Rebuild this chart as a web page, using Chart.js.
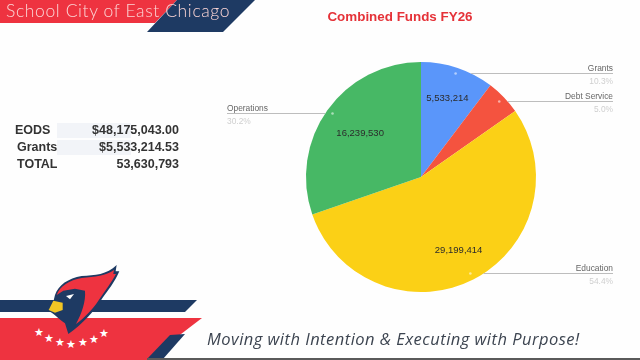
<!DOCTYPE html>
<html>
<head>
<meta charset="utf-8">
<title>Combined Funds FY26</title>
<script src="https://cdn.jsdelivr.net/npm/chart.js@4/dist/chart.umd.min.js"></script>
<style>
  html, body { margin: 0; padding: 0; background: #fff; }
  #page { position: relative; width: 640px; height: 360px; overflow: hidden; background: #fefefe; font-family: "Liberation Sans", Arial, sans-serif; }
  #decor, #fundsChart { position: absolute; left: 0; top: 0; }
  #heading { position: absolute; left: 6px; top: 0; font: 300 17.5px/21px Lato, sans-serif; letter-spacing: 0.62px; color: #fbd5d5; white-space: nowrap; }
  #title { position: absolute; left: 300px; width: 200px; top: 8px; text-align: center; font: bold 13.4px/18px "Liberation Sans", Arial, sans-serif; color: #e53238; white-space: nowrap; }
  #tagline { position: absolute; left: 207px; top: 329px; font: italic 400 16.5px/20px "Open Sans", sans-serif; letter-spacing: 0.48px; color: #3c4450; white-space: nowrap; }
  .row { position: absolute; left: 15px; width: 164px; height: 15px; font: bold 12.5px/15px "Liberation Sans", Arial, sans-serif; color: #333; }
  .row .shade { position: absolute; left: 42px; right: 48px; top: 0; bottom: 0; background: #f2f4f8; }
  .row span { position: absolute; top: 0; }
  .row .amount { right: 0; }
</style>
</head>
<body>
<div id="page">
  <svg id="decor" width="640" height="360" viewBox="0 0 640 360">
    <polygon points="0,0 177,0 155,23 0,23" fill="#ee3340"/>
    <polygon points="177,0 255,0 223,32 147,32" fill="#1e3a63"/>
    <polygon points="0,300 197,300 185,312 0,312" fill="#1e3a63"/>
    <polygon points="0,318 202,318 147,360 0,360" fill="#ee3340"/>
    <polygon points="170,335 185,334 163,359 147,359" fill="#1e3a63"/>
    <rect x="147" y="358" width="493" height="2" fill="#5a5a5a"/>
    <g transform="translate(0,260) scale(0.3333)">
      <path d="M165 105 C175 75 205 55 245 48 C285 45 320 45 350 15 L347 34 L358 34 C345 65 325 90 300 125 C285 150 250 190 205 222 L195 190 C175 175 160 160 150 155 L146 148 L160 125 Z" fill="#1e3a63"/>
      <path d="M170 105 C180 78 208 60 245 54 C285 50 318 48 342 30 L340 42 L348 42 C335 65 318 90 295 122 C280 145 255 172 228 192 C245 160 258 125 255 92 L225 86 L190 92 Z" fill="#ee3340"/>
      <path d="M198 108 L222 102 L210 118 Z" fill="#fff"/>
      <path d="M160 122 L188 128 L188 150 L165 158 L146 150 Z" fill="#f2c624"/>
      <g fill="#fff" font-size="32" text-anchor="middle">
        <text x="118" y="227">★</text><text x="147" y="247">★</text><text x="179" y="259">★</text><text x="214" y="264">★</text><text x="250" y="259">★</text><text x="283" y="249">★</text><text x="312" y="230">★</text>
      </g>
    </g>
  </svg>
  <canvas id="fundsChart" width="640" height="360"></canvas>
  <div id="heading">School City of East Chicago</div>
  <div id="title">Combined Funds FY26</div>
  <div id="tagline">Moving with Intention &amp; Executing with Purpose!</div>
</div>
<script>
const fundLabels = ['Grants', 'Debt Service', 'Education', 'Operations'];
const fundValues = [5533214, 2658635, 29199414, 16239530];
const fundValueLabels = ['5,533,214', '', '29,199,414', '16,239,530'];
const fundPercents = ['10.3%', '5.0%', '54.4%', '30.2%'];
const fundColors = ['#5a96fa', '#f4533f', '#fbd016', '#47b865'];

const summaryNames = ['EODS', 'Grants', 'TOTAL'];
const summaryAmounts = ['$48,175,043.00', '$5,533,214.53', '53,630,793'];

const page = document.getElementById('page');
summaryNames.forEach((name, i) => {
  const row = document.createElement('div');
  row.className = 'row';
  row.style.top = (123 + i * 17) + 'px';
  const shade = i < 2 ? '<div class="shade"></div>' : '';
  const nameLeft = i === 0 ? 0 : 2;
  row.innerHTML = `${shade}<span style="left:${nameLeft}px">${name}</span><span class="amount">${summaryAmounts[i]}</span>`;
  page.appendChild(row);
});

// leader lines and text, placed from each arc's own angle
const sliceLabels = {
  id: 'sliceLabels',
  afterDatasetsDraw(chart) {
    const ctx = chart.ctx;
    const arcs = chart.getDatasetMeta(0).data;
    const valueRadius = [0.72, 0, 0.72, 0.65];
    ctx.save();
    arcs.forEach((arc, i) => {
      const { x, y, startAngle, endAngle, outerRadius } = arc.getProps(['x', 'y', 'startAngle', 'endAngle', 'outerRadius'], true);
      const mid = (startAngle + endAngle) / 2;
      const cos = Math.cos(mid);
      const sin = Math.sin(mid);

      if (fundValueLabels[i]) {
        ctx.font = '9.5px "Liberation Sans", Arial, sans-serif';
        ctx.fillStyle = '#2b2b2b';
        ctx.textAlign = 'center';
        ctx.textBaseline = 'middle';
        ctx.fillText(fundValueLabels[i], x + cos * outerRadius * valueRadius[i], y + sin * outerRadius * valueRadius[i]);
      }

      const ax = x + cos * outerRadius * 0.945;
      const ay = y + sin * outerRadius * 0.945;
      const right = cos > 0;
      const endX = right ? 613 : 227;
      const lineY = Math.round(ay) - 0.5;
      // the line only shows outside the pie, inside there is just a pale dot
      const edge = Math.sqrt(outerRadius * outerRadius - (lineY - y) * (lineY - y));
      const startX = right ? x + edge : x - edge;
      ctx.strokeStyle = '#bdbdbd';
      ctx.lineWidth = 1;
      ctx.beginPath();
      ctx.moveTo(startX, lineY);
      ctx.lineTo(endX, lineY);
      ctx.stroke();
      ctx.fillStyle = 'rgba(255,255,255,0.55)';
      ctx.beginPath();
      ctx.arc(ax, lineY, 1.3, 0, Math.PI * 2);
      ctx.fill();

      ctx.textAlign = right ? 'right' : 'left';
      ctx.textBaseline = 'alphabetic';
      ctx.font = '8.4px "Liberation Sans", Arial, sans-serif';
      ctx.fillStyle = '#666';
      ctx.fillText(fundLabels[i], endX, lineY - 3);
      ctx.fillStyle = '#cfcfcf';
      ctx.fillText(fundPercents[i], endX, lineY + 10);
    });
    ctx.restore();
  }
};

new Chart(document.getElementById('fundsChart').getContext('2d'), {
  type: 'pie',
  data: {
    labels: fundLabels,
    datasets: [{
      data: fundValues,
      backgroundColor: fundColors,
      borderWidth: 0
    }]
  },
  options: {
    responsive: false,
    animation: false,
    layout: { padding: { left: 306, right: 104, top: 62, bottom: 68 } },
    plugins: {
      legend: { display: false },
      tooltip: { enabled: false }
    }
  },
  plugins: [sliceLabels]
});
</script>
</body>
</html>
